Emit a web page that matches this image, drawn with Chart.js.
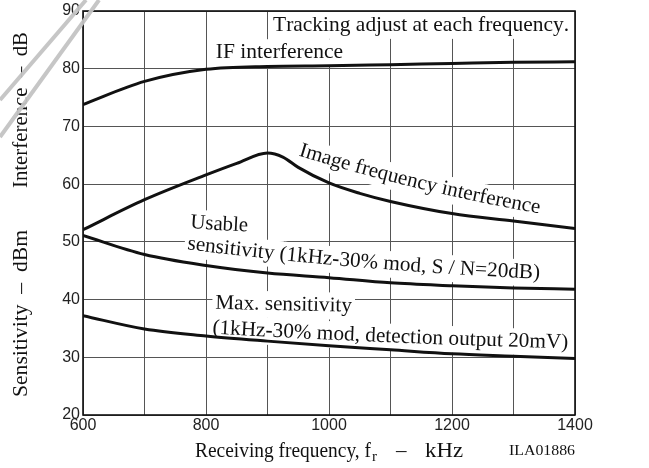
<!DOCTYPE html>
<html><head><meta charset="utf-8">
<script src="https://cdn.jsdelivr.net/npm/chart.js@4.4.1/dist/chart.umd.min.js"></script>
<style>html,body{margin:0;padding:0;background:#fff;overflow:hidden}canvas{display:block}</style>
</head><body>
<canvas id="c" width="649" height="468"></canvas>
<script>
// ---- data ----
const frequencies = [600, 700, 800, 900, 1000, 1100, 1200, 1300, 1400];
const ifInterference = [73.8, 77.8, 79.9, 80.4, 80.5, 80.7, 80.9, 81.1, 81.2];
const imageFreqX = [600, 700, 800, 850, 900, 925, 950, 1000, 1050, 1100, 1200, 1300, 1400];
const imageFreqInterference = [52.1, 57.3, 61.6, 63.6, 65.4, 64.7, 62.9, 60.2, 58.4, 57.0, 54.9, 53.6, 52.3];
const usableSensitivity = [51.1, 47.8, 45.9, 44.6, 43.8, 42.9, 42.4, 42.0, 41.8];
const maxSensitivity = [37.2, 34.9, 33.7, 32.8, 32.0, 31.3, 30.6, 30.2, 29.8];
const xTickLabels = [600, 800, 1000, 1200, 1400];
const yTickLabels = [20, 30, 40, 50, 60, 70, 80, 90];

// ---- text labels (anchored in data coordinates) ----
const SERIF = '"Liberation Serif", "Times New Roman", serif';
const SANS = '"Liberation Sans", Arial, sans-serif';
const curveLabels = [
  { text: 'Tracking adjust at each frequency.', from: [909, 86.6], to: [1387, 86.6], angles: [0, 0], size: 21 },
  { text: 'IF interference', from: [816, 81.9], to: [1023, 81.9], angles: [0, 0], size: 21 },
  { text: 'Image frequency interference', from: [950, 64.95], to: [1343, 55.35], angles: [17, 10], size: 21 },
  { text: 'Usable', from: [774, 52.4], to: [868, 51.8], angles: [4.5, 2.5], size: 21 },
  { text: 'sensitivity (1kHz-30% mod, S / N=20dB)', from: [769, 48.7], to: [1343, 43.7], angles: [7, 2.5], size: 21 },
  { text: 'Max. sensitivity', from: [815, 38.4], to: [1037, 38.0], angles: [1.2, 1.2], size: 21 },
  { text: '(1kHz-30% mod, detection output 20mV)', from: [810, 34.1], to: [1389, 31.8], angles: [3.2, 1.5], size: 21 }
];

function toPts(xs, ys) { return xs.map((v, i) => ({ x: v, y: ys[i] })); }

function layoutLabel(ctx, a, xs, ys) {
  const font = a.size + 'px ' + SERIF;
  ctx.font = font;
  const x0 = xs.getPixelForValue(a.from[0]), y0 = ys.getPixelForValue(a.from[1]);
  const x1 = xs.getPixelForValue(a.to[0]), y1 = ys.getPixelForValue(a.to[1]);
  const W = ctx.measureText(a.text).width;
  const L = Math.hypot(x1 - x0, y1 - y0);
  const sx = L / W;
  const a0 = a.angles[0] * Math.PI / 180, a1 = a.angles[1] * Math.PI / 180;
  let px = x0, py = y0, pos = 0;
  const glyphs = [];
  for (const ch of a.text) {
    const w = ctx.measureText(ch).width;
    const ang = a0 + (a1 - a0) * ((pos + w / 2) / W);
    glyphs.push({ ch, x: px, y: py, a: ang, w: w * sx, asc: a.size * 0.74, desc: a.size * 0.24 });
    px += Math.cos(ang) * w * sx;
    py += Math.sin(ang) * w * sx;
    pos += w;
  }
  return { font, sx, glyphs };
}

function drawFitted(ctx, text, x, y, width, font, rot) {
  ctx.save();
  ctx.font = font;
  const w = ctx.measureText(text).width;
  ctx.translate(x, y);
  if (rot) ctx.rotate(rot);
  ctx.scale(width / w, 1);
  ctx.textAlign = 'left';
  ctx.textBaseline = 'alphabetic';
  ctx.fillText(text, 0, 0);
  ctx.restore();
}

const labelPlugin = {
  id: 'labels',
  beforeDatasetsDraw(chart) {
    const { ctx, scales: { x, y } } = chart;
    const items = curveLabels.map(a => layoutLabel(ctx, a, x, y));
    ctx.save();
    ctx.fillStyle = '#fff';
    items.forEach(it => it.glyphs.forEach(g => {
      ctx.save(); ctx.translate(g.x, g.y); ctx.rotate(g.a);
      ctx.fillRect(-3, -g.asc - 3, g.w + 6, g.asc + g.desc + 6);
      ctx.restore();
    }));
    ctx.fillStyle = '#111';
    ctx.textBaseline = 'alphabetic';
    items.forEach(it => {
      ctx.font = it.font;
      it.glyphs.forEach(g => {
        ctx.save(); ctx.translate(g.x, g.y); ctx.rotate(g.a); ctx.scale(it.sx, 1);
        ctx.fillText(g.ch, 0, 0);
        ctx.restore();
      });
    });
    ctx.restore();
  },
  afterDatasetsDraw(chart) {
    const { ctx, chartArea: ca } = chart;
    ctx.save();
    ctx.strokeStyle = '#111';
    ctx.lineWidth = 1.6;
    ctx.strokeRect(ca.left, ca.top, ca.right - ca.left, ca.bottom - ca.top);
    ctx.restore();
  },
  afterDraw(chart) {
    const { ctx } = chart;
    ctx.save();
    ctx.fillStyle = '#111';
    // x axis title with subscript
    const f21 = '21px ' + SERIF;
    ctx.font = f21;
    drawFitted(ctx, 'Receiving frequency, f', 195, 457, 176, f21);
    ctx.font = '15px ' + SERIF;
    ctx.fillText('r', 372, 461);
    ctx.font = f21;
    ctx.fillText('–', 396, 457);
    drawFitted(ctx, 'kHz', 425, 457, 38, f21);
    // figure code
    drawFitted(ctx, 'ILA01886', 509, 455, 66, '15px ' + SERIF);
    // y axis titles (rotated)
    drawFitted(ctx, 'Interference  –  dB', 27, 188, 156, f21, -Math.PI / 2);
    drawFitted(ctx, 'Sensitivity  –  dBm', 27, 397, 167, f21, -Math.PI / 2);
    // scan marks at the top left corner
    ctx.strokeStyle = 'rgba(195,195,195,0.95)';
    ctx.lineWidth = 4;
    ctx.beginPath();
    ctx.moveTo(0, 100); ctx.lineTo(86, 0);
    ctx.moveTo(0, 137); ctx.lineTo(99, 0);
    ctx.stroke();
    ctx.restore();
  }
};

const lineStyle = { borderColor: '#111', borderWidth: 3, pointRadius: 0, fill: false, cubicInterpolationMode: 'monotone' };

new Chart(document.getElementById('c').getContext('2d'), {
  type: 'line',
  data: {
    datasets: [
      Object.assign({ label: 'IF interference', data: toPts(frequencies, ifInterference) }, lineStyle),
      Object.assign({ label: 'Image frequency interference', data: toPts(imageFreqX, imageFreqInterference) }, lineStyle),
      Object.assign({ label: 'Usable sensitivity', data: toPts(frequencies, usableSensitivity) }, lineStyle),
      Object.assign({ label: 'Max. sensitivity', data: toPts(frequencies, maxSensitivity) }, lineStyle)
    ]
  },
  options: {
    responsive: false,
    animation: false,
    devicePixelRatio: 1,
    layout: { padding: { top: 7, right: 74, left: 0, bottom: 0 } },
    plugins: { legend: { display: false }, tooltip: { enabled: false } },
    scales: {
      x: {
        type: 'linear', min: 600, max: 1400,
        ticks: {
          stepSize: 100, autoSkip: false, maxRotation: 0, padding: 3, color: '#222',
          font: { family: SANS, size: 16, lineHeight: 1 },
          callback: v => xTickLabels.includes(v) ? String(v) : ''
        },
        grid: { color: '#555', lineWidth: 1, drawTicks: false },
        border: { display: false },
        afterFit: s => { s.height = 53; }
      },
      y: {
        min: 20, max: 90,
        ticks: {
          stepSize: 10, padding: 3, color: '#222',
          font: { family: SANS, size: 16, lineHeight: 1 },
          callback: v => yTickLabels.includes(v) ? String(v) : ''
        },
        grid: { color: '#555', lineWidth: 1, drawTicks: false },
        border: { display: false },
        afterFit: s => { s.width = 83; }
      }
    }
  },
  plugins: [labelPlugin]
});
</script>
</body></html>
